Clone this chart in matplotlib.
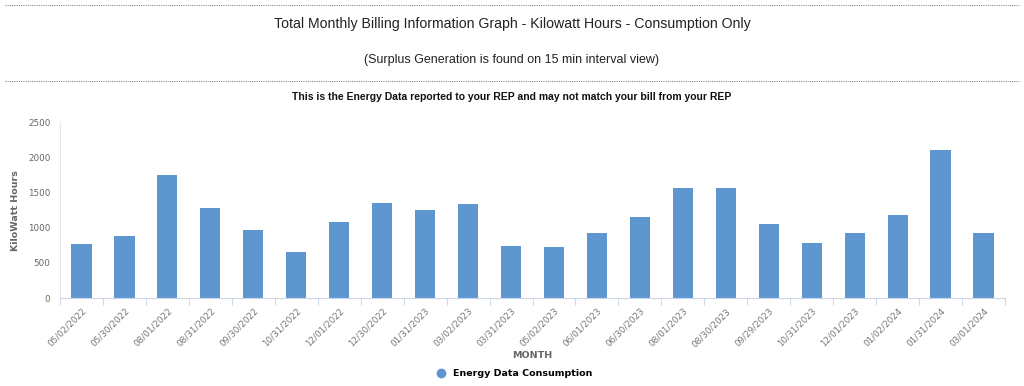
import matplotlib.pyplot as plt
from matplotlib.lines import Line2D
import numpy as np

plt.rcParams['font.family'] = ['Liberation Sans', 'DejaVu Sans']

# Billing periods and consumption (kWh)
periods = ['05/02/2022', '05/30/2022', '08/01/2022', '08/31/2022', '09/30/2022',
           '10/31/2022', '12/01/2022', '12/30/2022', '01/31/2023', '03/02/2023',
           '03/31/2023', '05/02/2023', '06/01/2023', '06/30/2023', '08/01/2023',
           '08/30/2023', '09/29/2023', '10/31/2023', '12/01/2023', '01/02/2024',
           '01/31/2024', '03/01/2024']
consumption = [770, 890, 1755, 1290, 970, 655, 1090, 1360, 1250, 1338, 735,
               726, 925, 1153, 1570, 1570, 1062, 783, 925, 1182, 2116, 934]
y_ticks = [0, 500, 1000, 1500, 2000, 2500]

bar_color = '#5e97d0'
gray = '#666666'

fig = plt.figure(figsize=(10.24, 3.86), dpi=100)

# header texts and dotted separators
fig.add_artist(Line2D([0.005, 0.995], [1 - 5 / 386, 1 - 5 / 386], transform=fig.transFigure,
                      color='#888888', linestyle=(0, (1, 1)), linewidth=0.8))
fig.add_artist(Line2D([0.005, 0.995], [1 - 81 / 386, 1 - 81 / 386], transform=fig.transFigure,
                      color='#888888', linestyle=(0, (1, 1)), linewidth=0.8))
fig.text(0.5, 1 - 24 / 386, 'Total Monthly Billing Information Graph - Kilowatt Hours - Consumption Only',
         ha='center', va='center', fontsize=10.2, color='#222222')
fig.text(0.5, 1 - 60 / 386, '(Surplus Generation is found on 15 min interval view)',
         ha='center', va='center', fontsize=9, color='#222222')
fig.text(0.5, 1 - 97 / 386, 'This is the Energy Data reported to your REP and may not match your bill from your REP',
         ha='center', va='center', fontsize=7.5, fontweight='bold', color='#111111')

ax = fig.add_axes([60 / 1024, 88 / 386, 945 / 1024, 175.3 / 386])
x = np.arange(len(periods))
ax.bar(x, consumption, width=0.47, color=bar_color, zorder=2)

ax.set_xlim(-0.5, len(periods) - 0.5)
ax.set_ylim(0, 2500)
ax.set_yticks(y_ticks)
ax.set_yticklabels([str(v) for v in y_ticks], fontsize=6.3, color=gray, family='DejaVu Sans')
ax.tick_params(axis='y', length=0, pad=7)

ax.set_xticks(x)
ax.set_xticklabels(periods, rotation=45, ha='right', rotation_mode='anchor',
                   fontsize=6.3, color='#777777', family='DejaVu Sans')
ax.tick_params(axis='x', length=0, pad=6)
ax.set_xticks(np.arange(-0.5, len(periods)), minor=True)
ax.tick_params(axis='x', which='minor', length=5, color='#cfd8e3', width=0.8)

for side in ['top', 'right']:
    ax.spines[side].set_visible(False)
ax.spines['left'].set_color('#e6e6e6')
ax.spines['bottom'].set_color('#ccd6eb')

ax.set_ylabel('KiloWatt Hours', fontsize=6.8, fontweight='bold', color=gray, family='DejaVu Sans')
ax.yaxis.set_label_coords(-40 / 945, 0.5)
ax.set_xlabel('MONTH', fontsize=6.8, fontweight='bold', color=gray, family='DejaVu Sans', labelpad=2)

handle = Line2D([], [], marker='o', linestyle='none', color=bar_color, markersize=6)
fig.legend([handle], ['Energy Data Consumption'], loc='center', bbox_to_anchor=(0.5, 1 - 374 / 386),
           frameon=False, handletextpad=0.2,
           prop={'weight': 'bold', 'size': 6.8, 'family': 'DejaVu Sans'})

fig.savefig('out.png', dpi=100)
